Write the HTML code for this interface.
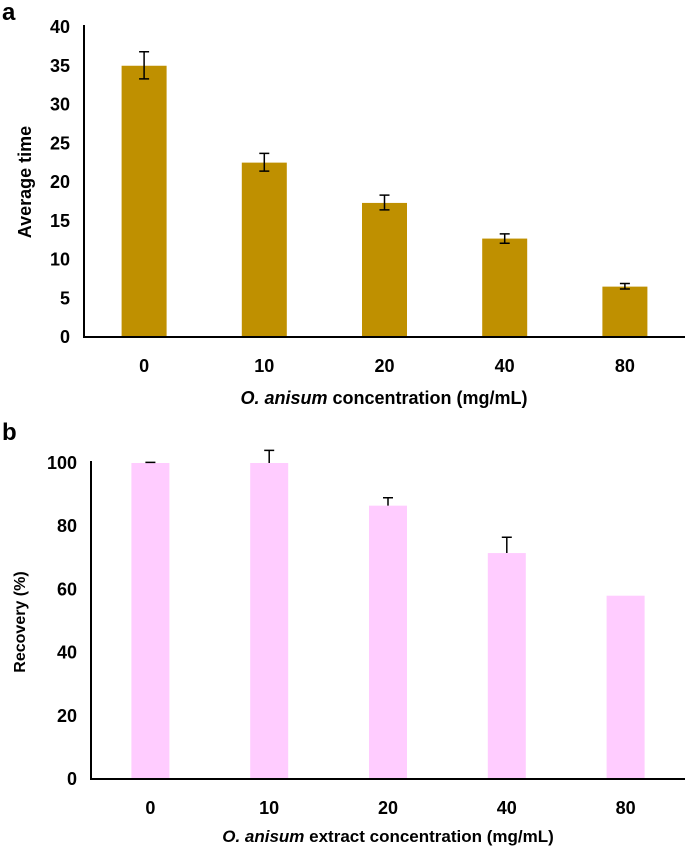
<!DOCTYPE html>
<html><head><meta charset="utf-8"><style>
body{margin:0;background:#fff;}
svg{display:block;font-family:"Liberation Sans",sans-serif;}
</style></head><body>
<svg id="s" width="685" height="849">
<text x="2" y="20" font-size="24" font-weight="bold">a</text>
<text x="2" y="440" font-size="24" font-weight="bold">b</text>
</svg>
<script>
const catsA=["0","10","20","40","80"];
const valsA=[35,22.5,17.3,12.7,6.5];
const errLoA=[33.3,21.4,16.4,12.1,6.2];
const errHiA=[36.8,23.7,18.3,13.3,6.9];
const ticksA=[0,5,10,15,20,25,30,35,40];
const catsB=["0","10","20","40","80"];
const valsB=[100,100,86.5,71.5,58];
const errHiB=[100.2,104,89,76.5,58];
const ticksB=[0,20,40,60,80,100];
const NS="http://www.w3.org/2000/svg";
const svg=document.getElementById('s');
function el(t,a,txt){const e=document.createElementNS(NS,t);for(const k in a)e.setAttribute(k,a[k]);if(txt!==undefined)e.textContent=txt;svg.appendChild(e);return e;}
function chart(o){
 const y=v=>o.y0-(v-o.vmin)/(o.vmax-o.vmin)*(o.y0-o.yTop);
 const band=(685-o.x0)/o.cats.length;
 const x=i=>o.x0+band*(i+0.5);
 o.ticks.forEach(t=>{const e=el('text',{x:o.x0-14,y:y(t)+6,'font-size':18,'font-weight':'bold','text-anchor':'end'},t);
 
 });
 o.cats.forEach((c,i)=>{
  const r=el('rect',{x:x(i)-o.bw/2,y:y(o.vals[i]),width:o.bw,height:o.y0-y(o.vals[i]),fill:o.color});
  
  
  const hi=o.hi[i],lo=o.lo?o.lo[i]:o.vals[i];
  if(hi>o.vals[i]){
   const g=el('path',{d:`M${x(i)},${y(lo)}V${y(hi)}M${x(i)-5},${y(hi)}H${x(i)+5}`+(o.lo?`M${x(i)-5},${y(lo)}H${x(i)+5}`:''),stroke:'#000','stroke-width':1.5,fill:'none'});
   
   
  }
  const t=el('text',{x:x(i),y:o.y0+35,'font-size':18,'font-weight':'bold','text-anchor':'middle'},c);
  
  
 });
 const ax=el('path',{d:`M${o.x0},${o.yTop-2}V${o.y0}H685`,stroke:'#000','stroke-width':2,fill:'none'});
 
 
}
chart({p:'a',x0:84,y0:337,yTop:27,vmin:0,vmax:40,cats:catsA,vals:valsA,lo:errLoA,hi:errHiA,ticks:ticksA,bw:45,color:'#BF9000'});
chart({p:'b',x0:91,y0:779,yTop:463,vmin:0,vmax:100,cats:catsB,vals:valsB,lo:null,hi:errHiB,ticks:ticksB,bw:38,color:'#FFCCFF'});
</script>
<svg style="position:absolute;left:0;top:0" width="685" height="849">
<text x="384" y="404" font-size="18" font-weight="bold" text-anchor="middle" font-family="Liberation Sans, sans-serif"><tspan font-style="italic">O. anisum</tspan> concentration (mg/mL)</text>
<text transform="translate(31,182) rotate(-90)" font-size="18" font-weight="bold" text-anchor="middle" font-family="Liberation Sans, sans-serif">Average time</text>
<text x="388" y="842" font-size="17" font-weight="bold" text-anchor="middle" font-family="Liberation Sans, sans-serif"><tspan font-style="italic">O. anisum</tspan> extract concentration (mg/mL)</text>
<text transform="translate(25,622) rotate(-90)" font-size="16" font-weight="bold" text-anchor="middle" font-family="Liberation Sans, sans-serif">Recovery (%)</text>
</svg>
</body></html>
